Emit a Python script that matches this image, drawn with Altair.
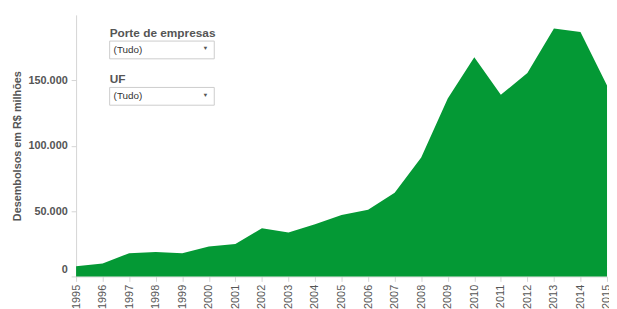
import altair as alt
import pandas as pd

years = list(range(1995, 2016))
values = [7700, 9800, 17800, 18600, 17800, 22800, 24800, 36800, 33600, 40000,
          47000, 51000, 64000, 91000, 136000, 167700, 138900, 155600, 189700, 187000, 146000]

y_ticks = [0, 50000, 100000, 150000]
filter_titles = ["Porte de empresas", "UF"]
filter_value = "(Tudo)"

df = pd.DataFrame({"Ano": years, "Desembolsos": values})
one = pd.DataFrame({"k": [0]})

FONT = "Liberation Sans"
GRAY = "#555555"
AXIS = "#d4d4d4"

area = alt.Chart(df).mark_area(color="#049935", opacity=1).encode(
    x=alt.X("Ano:Q", scale=alt.Scale(domain=[1995, 2015], nice=False, zero=False),
            axis=alt.Axis(values=years, format="d", title=None, labelAngle=270,
                          labelAlign="right", labelBaseline="middle", labelPadding=3,
                          labelFont=FONT, labelFontSize=11, labelFontWeight="normal",
                          labelColor="#555555", grid=False, domainColor=AXIS,
                          tickColor=AXIS, tickSize=5, labelOverlap=False, labelFlush=False)),
    y=alt.Y("Desembolsos:Q", scale=alt.Scale(domain=[0, 200000], nice=False),
            axis=alt.Axis(values=y_ticks, title="Desembolsos em R$ milhões",
                          labelExpr="replace(format(datum.value, ','), ',', '.')",
                          labelFont=FONT, labelFontSize=11, labelFontWeight="bold",
                          labelColor=GRAY, titleFont=FONT, titleFontSize=11,
                          titleFontWeight="bold", titleColor=GRAY, titlePadding=6,
                          grid=False, domainColor=AXIS, tickColor=AXIS, tickSize=5,
                          labelPadding=4,
                          labelOffset={"condition": {"test": "datum.value === 0", "value": -7}, "value": 0})),
)

layers = [area]
tops = [18, 65]
for title, ty in zip(filter_titles, tops):
    layers.append(alt.Chart(one).mark_text(align="left", baseline="middle", font=FONT,
                                           fontSize=12, fontWeight="bold", color=GRAY).encode(
        x=alt.value(34), y=alt.value(ty), text=alt.value(title)))
    layers.append(alt.Chart(one).mark_rect(fill="white", stroke="#cccccc", strokeWidth=1).encode(
        x=alt.value(34), x2=alt.value(140), y=alt.value(ty + 8.5), y2=alt.value(ty + 26.5)))
    layers.append(alt.Chart(one).mark_text(align="left", baseline="middle", font=FONT,
                                           fontSize=10, color="#333333").encode(
        x=alt.value(38), y=alt.value(ty + 17.5), text=alt.value(filter_value)))
    layers.append(alt.Chart(one).mark_text(align="center", baseline="middle", font=FONT,
                                           fontSize=6, color="#555555").encode(
        x=alt.value(131), y=alt.value(ty + 16), text=alt.value("▼")))

chart = alt.layer(*layers).properties(
    width=538, height=265,
    padding={"left": 69, "top": 5, "right": 2, "bottom": 31},
    autosize=alt.AutoSizeParams(type="none"),
).configure_view(stroke=None)

chart.save("out.html", embed_options={"renderer": "svg", "actions": False})
